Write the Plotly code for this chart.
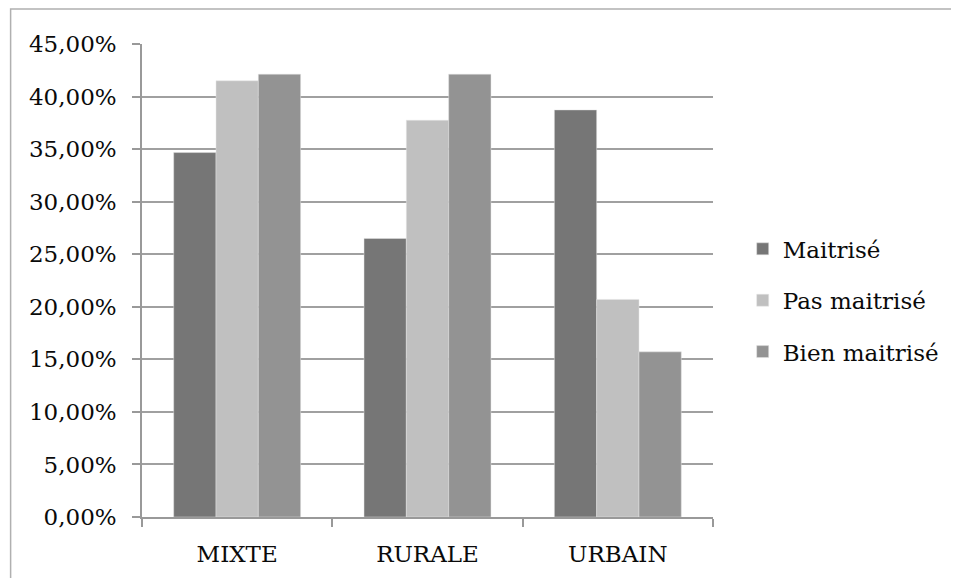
import plotly.graph_objects as go

categories = ["MIXTE", "RURALE", "URBAIN"]
series_names = ["Maitrisé", "Pas maitrisé", "Bien maitrisé"]
maitrise = [34.67, 26.5, 38.73]
pas_maitrise = [41.5, 37.75, 20.7]
bien_maitrise = [42.13, 42.13, 15.71]
tick_values = [0, 5, 10, 15, 20, 25, 30, 35, 40, 45]
tick_labels = ["0,00%", "5,00%", "10,00%", "15,00%", "20,00%", "25,00%",
               "30,00%", "35,00%", "40,00%", "45,00%"]

colors = ["#767676", "#c0c0c0", "#939393"]
FONT = "DejaVu Serif"
FS = 23

fig = go.Figure()
for i, (name, vals) in enumerate(zip(series_names, [maitrise, pas_maitrise, bien_maitrise])):
    fig.add_trace(go.Bar(
        x=categories, y=vals, name=name, legendgroup=name,
        marker=dict(color=colors[i], line=dict(color="rgba(230,230,230,0.8)", width=0.6)),
    ))

fig.update_layout(
    width=959, height=578,
    margin=dict(l=133.5, r=254, t=36, b=69.3),
    paper_bgcolor="white", plot_bgcolor="white",
    barmode="group", bargap=0.333, bargroupgap=0,
    font=dict(family=FONT, size=FS, color="#0a0a0a"),
    showlegend=True,
    legend=dict(x=1.052, xanchor="left", y=0.458, yanchor="middle",
                traceorder="grouped", tracegroupgap=18.5,
                font=dict(family=FONT, size=FS, color="#0a0a0a"),
                bgcolor="rgba(0,0,0,0)", itemwidth=30),
    xaxis=dict(showgrid=False, showline=True, linecolor="#999999", linewidth=1.5,
               ticks="outside", tickson="boundaries", ticklen=8, tickcolor="#999999",
               tickwidth=1.5, ticklabelstandoff=16,
               tickfont=dict(family=FONT, size=FS, color="#0a0a0a")),
    yaxis=dict(range=[0, 45], tickvals=tick_values, ticktext=tick_labels,
               showgrid=True, gridcolor="#a0a0a0", gridwidth=1.5,
               showline=True, linecolor="#999999", linewidth=1.5,
               ticks="outside", ticklen=8, tickcolor="#999999", tickwidth=1.5,
               ticklabelstandoff=11, zeroline=False,
               tickfont=dict(family=FONT, size=FS, color="#0a0a0a")),
    shapes=[dict(type="rect", xref="paper", yref="paper",
                 x0=(10 - 141.5) / 571.5, x1=1.6, y0=-0.3, y1=(516.7 - 9) / 472.7,
                 line=dict(color="#b0b0b0", width=1.5), fillcolor="rgba(0,0,0,0)",
                 layer="below")],
)

fig.write_html("out.html")
